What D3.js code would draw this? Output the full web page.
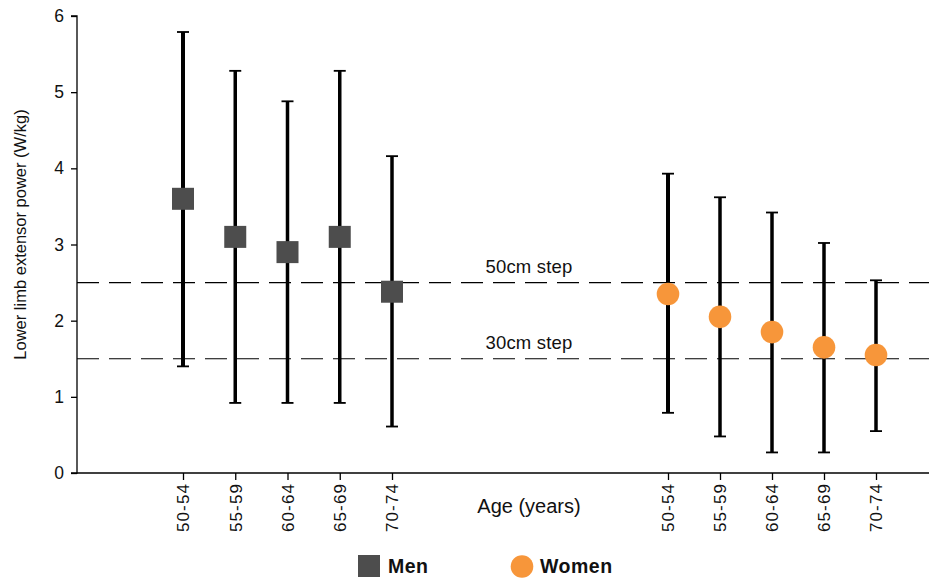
<!DOCTYPE html>
<html>
<head>
<meta charset="utf-8">
<script src="https://cdn.jsdelivr.net/npm/d3@7"></script>
<style>
  body { margin: 0; background: #fff; }
  svg { display: block; font-family: "Liberation Sans", Arial, Helvetica, sans-serif; }
</style>
</head>
<body>
<svg id="chart" width="929" height="581"></svg>
<script>
const ageGroups = ["50-54", "55-59", "60-64", "65-69", "70-74"];
const menMean  = [3.60, 3.10, 2.90, 3.10, 2.38];
const menUpper = [5.79, 5.28, 4.88, 5.28, 4.16];
const menLower = [1.40, 0.92, 0.92, 0.92, 0.61];
const womenMean  = [2.35, 2.05, 1.85, 1.65, 1.55];
const womenUpper = [3.93, 3.62, 3.42, 3.02, 2.53];
const womenLower = [0.79, 0.48, 0.27, 0.27, 0.55];
const yTicks = [0, 1, 2, 3, 4, 5, 6];
const refLines = [{value: 2.5, label: "50cm step"}, {value: 1.5, label: "30cm step"}];

const svg = d3.select("#chart");
const padL = 77, padR = 929, padT = 16, padB = 473;
const FONT = "Liberation Sans, Arial, sans-serif";

const y = d3.scaleLinear().domain([0, 6]).range([padB, padT]);
const xMen = d3.scalePoint().domain(ageGroups).range([183, 392]);
const xWomen = d3.scalePoint().domain(ageGroups).range([668, 876]);

// Reference dashed lines
const ref = svg.append("g");
refLines.forEach(r => {
  ref.append("line")
    .attr("x1", padL).attr("x2", padR)
    .attr("y1", y(r.value)).attr("y2", y(r.value))
    .attr("stroke", "#000").attr("stroke-width", 1.2)
    .attr("stroke-dasharray", "22,10");
  ref.append("text")
    .attr("x", 529).attr("y", y(r.value) - 10)
    .attr("text-anchor", "middle")
    .attr("font-size", 18.5).attr("letter-spacing", 0.2).attr("fill", "#111")
    .text(r.label);
});

// Y axis
const yAxis = svg.append("g")
  .attr("transform", `translate(${padL},0)`)
  .call(d3.axisLeft(y).tickValues(yTicks).tickFormat(d3.format("d")).tickSize(6).tickPadding(7));
yAxis.select(".domain").attr("stroke", "#000").attr("stroke-width", 1.3).attr("d", `M-6,${padT}H0V${padB}H-6`);
yAxis.selectAll(".tick line").attr("stroke", "#000").attr("stroke-width", 1.3);
yAxis.selectAll("text").attr("font-size", 17.5).attr("fill", "#111").attr("font-family", FONT);

// X axis line
svg.append("line").attr("x1", padL).attr("x2", padR).attr("y1", padB).attr("y2", padB)
  .attr("stroke", "#000").attr("stroke-width", 1.3);

function xTicks(scale) {
  const g = svg.append("g")
    .attr("transform", `translate(0,${padB})`)
    .call(d3.axisBottom(scale).tickSize(7).tickPadding(0));
  g.select(".domain").remove();
  g.selectAll(".tick line").attr("stroke", "#000").attr("stroke-width", 1.3);
  g.selectAll(".tick text")
    .attr("transform", "rotate(-90)")
    .attr("text-anchor", "end")
    .attr("x", -10).attr("y", 0).attr("dy", "0.35em")
    .attr("font-size", 17).attr("letter-spacing", 1.1).attr("fill", "#111")
    .attr("font-family", FONT);
}
xTicks(xMen);
xTicks(xWomen);

// Axis titles
svg.append("text")
  .attr("transform", `translate(25.5,234.5) rotate(-90)`)
  .attr("text-anchor", "middle").attr("font-size", 16.5).attr("fill", "#111")
  .text("Lower limb extensor power (W/kg)");
svg.append("text")
  .attr("x", 529).attr("y", 513).attr("text-anchor", "middle")
  .attr("font-size", 20).attr("fill", "#111")
  .text("Age (years)");

// Error bars
function errorBars(scale, mean, upper, lower, widths) {
  const g = svg.append("g");
  ageGroups.forEach((a, i) => {
    const cx = scale(a);
    g.append("line").attr("x1", cx).attr("x2", cx)
      .attr("y1", y(upper[i])).attr("y2", y(lower[i]))
      .attr("stroke", "#000").attr("stroke-width", widths[i]);
    [upper[i], lower[i]].forEach(v => {
      g.append("line").attr("x1", cx - 6).attr("x2", cx + 6)
        .attr("y1", y(v)).attr("y2", y(v))
        .attr("stroke", "#000").attr("stroke-width", 1.8);
    });
  });
}
errorBars(xMen, menMean, menUpper, menLower, [4, 3.5, 3.5, 3.5, 3.5]);
errorBars(xWomen, womenMean, womenUpper, womenLower, [4, 3.5, 3.5, 3.5, 3.5]);

// Markers
svg.append("g").selectAll("rect").data(ageGroups).join("rect")
  .attr("x", d => xMen(d) - 11)
  .attr("y", (d, i) => y(menMean[i]) - 11)
  .attr("width", 22).attr("height", 22)
  .attr("fill", "#4d4d4d");
svg.append("g").selectAll("circle").data(ageGroups).join("circle")
  .attr("cx", d => xWomen(d))
  .attr("cy", (d, i) => y(womenMean[i]))
  .attr("r", 11.3)
  .attr("fill", "#f7963a");

// Legend
const leg = svg.append("g");
leg.append("rect").attr("x", 358).attr("y", 555).attr("width", 22).attr("height", 22).attr("fill", "#4d4d4d");
leg.append("text").attr("x", 388).attr("y", 573).attr("font-size", 19.5).attr("letter-spacing", 0.5).attr("font-weight", "bold").attr("fill", "#111").text("Men");
leg.append("circle").attr("cx", 522).attr("cy", 566.5).attr("r", 11.3).attr("fill", "#f7963a");
leg.append("text").attr("x", 540).attr("y", 573).attr("font-size", 19.5).attr("letter-spacing", 0.5).attr("font-weight", "bold").attr("fill", "#111").text("Women");
</script>
</body>
</html>
